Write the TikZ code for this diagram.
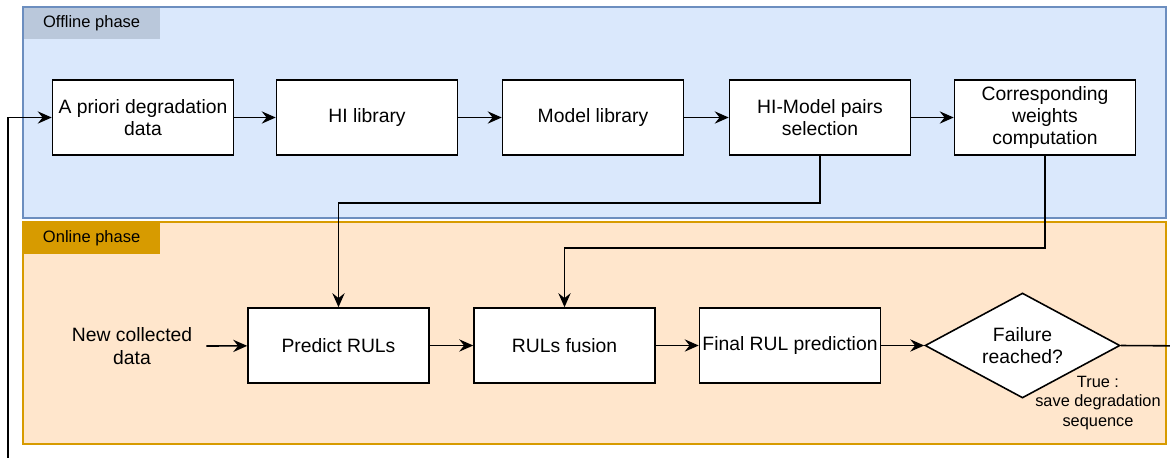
\documentclass[tikz,border=0pt]{standalone}
\usepackage{fontspec}
\setmainfont{Liberation Sans}
\usetikzlibrary{arrows.meta,shapes.geometric}

\begin{document}
\begin{tikzpicture}[x=0.02cm,y=-0.02cm,
  box/.style={draw,fill=white,line width=0.9pt,minimum width=3.62cm,minimum height=1.5cm,align=center,font=\fontsize{11}{12.8}\selectfont,inner sep=1pt},
  decide/.style={diamond,draw,fill=white,line width=0.9pt,minimum width=3.9cm,minimum height=2.1cm,aspect=1.86,align=center,font=\fontsize{11}{12.8}\selectfont,inner sep=0pt},
  tag/.style={minimum width=2.72cm,minimum height=0.62cm,inner sep=0pt,font=\fontsize{9.4}{11}\selectfont},
  arr/.style={-{Stealth[length=8pt,width=7pt,inset=2.8pt]},line width=0.9pt},
  line/.style={line width=0.9pt}]
\definecolor{offfill}{HTML}{DAE8FC}
\definecolor{offdraw}{HTML}{6C8EBF}
\definecolor{offtag}{HTML}{BAC8DB}
\definecolor{onfill}{HTML}{FFE6CC}
\definecolor{ondraw}{HTML}{D79B00}
\useasboundingbox (0,0) rectangle (1170,457);
\clip (0,0) rectangle (1170,457);
% phases
\draw[fill=offfill,draw=offdraw,line width=0.7pt] (23,7) rectangle (1166,218);
\node[tag,fill=offtag,anchor=north west] (offtag) at (23.3,7.3) {Offline phase};
\draw[fill=onfill,draw=ondraw,line width=0.7pt] (23,222) rectangle (1166,444);
\node[tag,fill=ondraw,anchor=north west] (ontag) at (23.3,222.3) {Online phase};
% offline row
\foreach \nm/\pos/\txt in {apriori/143/{A priori degradation\\data},hilib/367/{HI library},modlib/593/{Model library},pairs/820/{HI-Model pairs\\selection},weights/1045/{Corresponding\\weights\\computation}}
  {\node[box] (\nm) at (\pos,117.5) {\txt};}
\foreach \a/\b in {apriori/hilib,hilib/modlib,modlib/pairs,pairs/weights}
  {\draw[arr] (\a) -- (\b);}
% online row
\node[align=center,font=\fontsize{11}{12.8}\selectfont] (newdata) at (132,346) {New collected\\data};
\foreach \nm/\pos/\txt in {predict/338.5/{Predict RULs},fusion/564.5/{RULs fusion},final/790/{Final RUL prediction}}
  {\node[box] (\nm) at (\pos,345.5) {\txt};}
\node[decide] (fail) at (1022.5,345.5) {Failure\\reached?};
\node[align=center,font=\fontsize{9.3}{11}\selectfont] (truelbl) at (1098,403) {True :\\save degradation\\sequence};
\draw[arr] (newdata.east) ++(8,0) coordinate (nd) -- (predict);
\foreach \a/\b in {predict/fusion,fusion/final,final/fail}
  {\draw[arr] (\a) -- (\b);}
% feeds from offline phase
\draw[arr] (pairs.south) |- (339,203) -| (predict.north);
\draw[arr] (weights.south) |- (564,248) -| (fusion.north);
% loop back
\coordinate (outr) at (1200,346);
\coordinate (outb) at (8,480);
\draw[line] (fail.east) -- (outr) |- (outb);
\draw[arr] (outb) |- (apriori.west);
\end{tikzpicture}
\end{document}
